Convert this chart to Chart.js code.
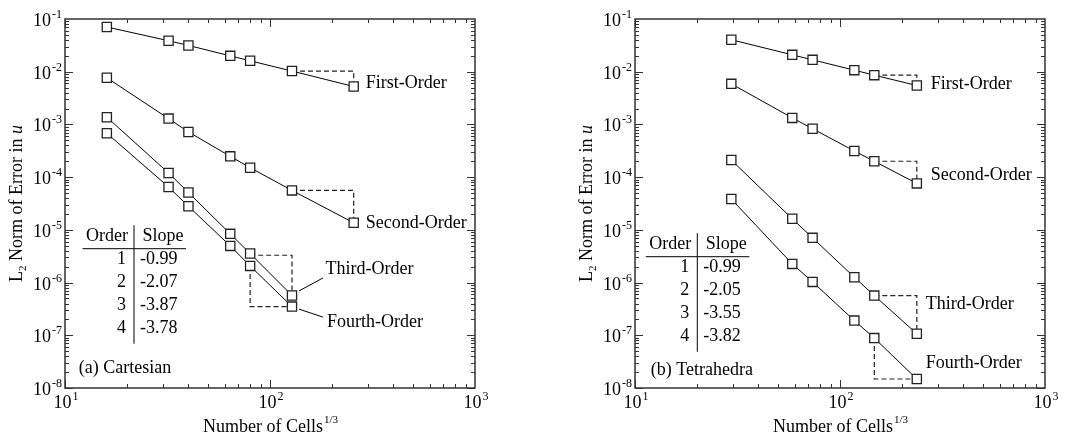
<!DOCTYPE html>
<html>
<head>
<meta charset="utf-8">
<script src="https://cdn.jsdelivr.net/npm/chart.js@4"></script>
<style>
html, body { margin: 0; padding: 0; background: #fff; }
#wrap { position: relative; width: 1075px; height: 437px; }
canvas { position: absolute; top: 0; }
</style>
</head>
<body>
<div id="wrap">
  <canvas id="cart" width="537" height="437" style="left:0"></canvas>
  <canvas id="tet" width="538" height="437" style="left:537px"></canvas>
</div>
<script>
'use strict';

// (a) Cartesian
var cartCells  = [16, 32, 40, 64, 80, 128, 256];
var cartFirst  = [0.0705, 0.0387, 0.0315, 0.0200, 0.0161, 0.0103, 0.00524];
var cartSecond = [0.00766, 0.00129, 0.00072, 0.000248, 0.000151, 0.000056, 0.0000136];
var cartThird  = [0.00137, 0.00012, 0.000051, 0.0000084, 0.00000356, 0.00000057];
var cartFourth = [0.00068, 0.000065, 0.000028, 0.00000496, 0.00000207, 0.00000035];
var cartSlopes = ['-0.99', '-2.07', '-3.87', '-3.78'];

// (b) Tetrahedra
var tetCells  = [29.5, 58.5, 73.5, 117.5, 147, 237];
var tetFirst  = [0.0404, 0.0209, 0.0168, 0.0107, 0.0086, 0.00547];
var tetSecond = [0.00589, 0.00133, 0.00083, 0.000313, 0.0002, 0.000076];
var tetThird  = [0.000211, 0.0000162, 0.00000705, 0.00000126, 0.000000566, 0.000000107];
var tetFourth = [0.0000384, 0.00000226, 0.00000103, 0.00000019, 0.0000000885, 0.0000000148];
var tetSlopes = ['-0.99', '-2.05', '-3.55', '-3.82'];

// slope triangles (data coordinates)
var cartTriangles = [
    [[128, 0.0103], [256, 0.0103], [256, 0.00524]],
    [[128, 0.000056], [256, 0.000056], [256, 0.0000136]],
    [[80, 0.0000033], [128, 0.0000033], [128, 0.00000057]],
    [[80, 0.00000207], [80, 0.00000035], [128, 0.00000035]]
];
var tetTriangles = [
    [[147, 0.0086], [237, 0.0086], [237, 0.00547]],
    [[147, 0.0002], [237, 0.0002], [237, 0.000076]],
    [[147, 0.000000566], [237, 0.000000566], [237, 0.000000107]],
    [[147, 0.0000000885], [147, 0.0000000148], [237, 0.0000000148]]
];

var orderNames = ['First-Order', 'Second-Order', 'Third-Order', 'Fourth-Order'];
var xDecades = [1, 2, 3];
var yDecades = [-8, -7, -6, -5, -4, -3, -2, -1];

var FONT = '"Liberation Serif", "Times New Roman", serif';

function toPoints(xs, ys) {
    return ys.map(function (y, i) { return { x: xs[i], y: y }; });
}

// "10" with a raised exponent
function drawPower(ctx, x, y, exp, align) {
    ctx.font = '18px ' + FONT;
    var w1 = ctx.measureText('10').width;
    ctx.font = '12px ' + FONT;
    var w2 = ctx.measureText(exp).width;
    var total = w1 + 1 + w2;
    var x0 = align === 'right' ? x - total : x - total / 2;
    ctx.textAlign = 'left';
    ctx.textBaseline = 'alphabetic';
    ctx.font = '18px ' + FONT;
    ctx.fillText('10', x0, y);
    ctx.font = '12px ' + FONT;
    ctx.fillText(exp, x0 + w1 + 1, y - 8);
}

// frame, inward log ticks, tick labels and axis titles
var logFrame = {
    id: 'logFrame',
    afterDraw: function (chart) {
        var ctx = chart.ctx, a = chart.chartArea,
            xs = chart.scales.x, ys = chart.scales.y;
        ctx.save();
        ctx.strokeStyle = '#333';
        ctx.lineWidth = 1;
        ctx.beginPath();
        // x ticks, bottom and top
        for (var d = 1; d < 3; d++) {
            for (var m = 1; m < 10; m++) {
                var px = Math.round(xs.getPixelForValue(m * Math.pow(10, d))) + 0.5;
                var len = m === 1 ? 8 : 4;
                ctx.moveTo(px, a.bottom); ctx.lineTo(px, a.bottom - len);
                ctx.moveTo(px, a.top); ctx.lineTo(px, a.top + len);
            }
        }
        // y ticks, left and right
        for (var e = -8; e < -1; e++) {
            for (var k = 1; k < 10; k++) {
                var py = Math.round(ys.getPixelForValue(k * Math.pow(10, e))) + 0.5;
                var l2 = k === 1 ? 8 : 4;
                ctx.moveTo(a.left, py); ctx.lineTo(a.left + l2, py);
                ctx.moveTo(a.right, py); ctx.lineTo(a.right - l2, py);
            }
        }
        ctx.stroke();
        ctx.lineWidth = 1.5;
        ctx.strokeRect(a.left, a.top, a.right - a.left, a.bottom - a.top);

        ctx.fillStyle = '#000';
        xDecades.forEach(function (p) {
            drawPower(ctx, xs.getPixelForValue(Math.pow(10, p)) + 1, a.bottom + 20, String(p), 'center');
        });
        yDecades.forEach(function (p) {
            drawPower(ctx, a.left - 3, ys.getPixelForValue(Math.pow(10, p)) + 7, String(p), 'right');
        });

        // x title
        ctx.font = '18px ' + FONT;
        var t1 = 'Number of Cells';
        var w1 = ctx.measureText(t1).width;
        ctx.font = '11px ' + FONT;
        var w2 = ctx.measureText('1/3').width;
        var cx = (a.left + a.right) / 2;
        var x0 = cx - (w1 + w2) / 2;
        ctx.textAlign = 'left';
        ctx.font = '18px ' + FONT;
        ctx.fillText(t1, x0, a.bottom + 44);
        ctx.font = '11px ' + FONT;
        ctx.fillText('1/3', x0 + w1 + 1, a.bottom + 35);

        // y title (rotated)
        ctx.translate(a.left - 43, (a.top + a.bottom) / 2);
        ctx.rotate(-Math.PI / 2);
        var parts = [
            ['L', '18px ' + FONT, 0],
            ['2', '11px ' + FONT, 4],
            [' Norm of Error in ', '18px ' + FONT, 0],
            ['u', 'italic 18px ' + FONT, 0]
        ];
        var tw = 0;
        parts.forEach(function (p) { ctx.font = p[1]; tw += ctx.measureText(p[0]).width; });
        var xx = -tw / 2;
        parts.forEach(function (p) {
            ctx.font = p[1];
            ctx.fillText(p[0], xx, p[2]);
            xx += ctx.measureText(p[0]).width;
        });
        ctx.restore();
    }
};

// order labels, slope table and panel tag
function panelText(cfg) {
    return {
        id: 'panelText',
        afterDraw: function (chart) {
            var ctx = chart.ctx, a = chart.chartArea,
                xs = chart.scales.x, ys = chart.scales.y;
            ctx.save();
            ctx.fillStyle = '#000';
            ctx.strokeStyle = '#000';
            ctx.lineWidth = 1;
            ctx.font = '18px ' + FONT;
            ctx.textBaseline = 'middle';
            ctx.textAlign = 'left';

            cfg.labels.forEach(function (lb) {
                var px = xs.getPixelForValue(lb.at[0]),
                    py = ys.getPixelForValue(lb.at[1]);
                ctx.fillText(lb.text, px + lb.dx, py + lb.dy);
                if (lb.leader) {
                    ctx.beginPath();
                    ctx.moveTo(px + lb.leader[0], py + lb.leader[1]);
                    ctx.lineTo(px + lb.leader[2], py + lb.leader[3]);
                    ctx.stroke();
                }
            });

            // slope table
            var vx = a.left + cfg.table.vx, hy = a.top + cfg.table.hy;
            ctx.beginPath();
            ctx.moveTo(vx - 51.5, hy); ctx.lineTo(vx + 52, hy);
            ctx.moveTo(vx, hy - 23.5); ctx.lineTo(vx, hy + 95);
            ctx.stroke();
            ctx.textAlign = 'right';
            ctx.fillText('Order', vx - 6, hy - 12);
            ctx.textAlign = 'left';
            ctx.fillText('Slope', vx + 8.5, hy - 12);
            cfg.slopes.forEach(function (s, i) {
                var ry = hy + 11 + i * 23;
                ctx.textAlign = 'right';
                ctx.fillText(String(i + 1), vx - 8, ry);
                ctx.textAlign = 'left';
                ctx.fillText(s, vx + 6, ry);
            });

            ctx.fillText(cfg.tag, a.left + cfg.tagDx, a.bottom - cfg.tagDy);
            ctx.restore();
        }
    };
}

function seriesSet(xs, ys) {
    return {
        data: toPoints(xs, ys),
        showLine: true,
        borderColor: '#000',
        borderWidth: 1,
        pointStyle: 'rect',
        pointRadius: 6.5,
        pointBorderWidth: 1.3,
        pointBorderColor: '#222',
        pointBackgroundColor: '#fff'
    };
}

function triangleSet(tri) {
    return {
        data: tri.map(function (p) { return { x: p[0], y: p[1] }; }),
        showLine: true,
        borderColor: '#222',
        borderWidth: 1.2,
        borderDash: [5, 3],
        pointRadius: 0
    };
}

function makePanel(id, cells, series, triangles, pad, cfg) {
    var datasets = series.map(function (s) { return seriesSet(cells.slice(0, s.length), s); })
        .concat(triangles.map(triangleSet));
    return new Chart(document.getElementById(id), {
        type: 'scatter',
        data: { datasets: datasets },
        options: {
            responsive: false,
            animation: false,
            devicePixelRatio: 1,
            layout: { padding: pad },
            plugins: { legend: { display: false }, tooltip: { enabled: false } },
            scales: {
                x: { type: 'logarithmic', min: 10, max: 1000, display: false },
                y: { type: 'logarithmic', min: 1e-8, max: 1e-1, display: false }
            }
        },
        plugins: [logFrame, panelText(cfg)]
    });
}

makePanel('cart', cartCells, [cartFirst, cartSecond, cartThird, cartFourth], cartTriangles,
    { left: 65, right: 62, top: 19, bottom: 49 },
    {
        labels: [
            { text: orderNames[0], at: [256, 0.00524], dx: 12, dy: -3.5 },
            { text: orderNames[1], at: [256, 0.0000136], dx: 12, dy: 0 },
            { text: orderNames[2], at: [128, 0.00000057], dx: 33.5, dy: -26.5, leader: [7, -4.5, 31, -17.5] },
            { text: orderNames[3], at: [128, 0.00000035], dx: 35, dy: 16, leader: [7, 2.5, 31, 10.5] }
        ],
        slopes: cartSlopes,
        table: { vx: 69, hy: 229.7 },
        tag: '(a) Cartesian', tagDx: 13.7, tagDy: 19.7
    });

makePanel('tet', tetCells, [tetFirst, tetSecond, tetThird, tetFourth], tetTriangles,
    { left: 98, right: 30, top: 19, bottom: 49 },
    {
        labels: [
            { text: orderNames[0], at: [237, 0.00547], dx: 14, dy: -1.5 },
            { text: orderNames[1], at: [237, 0.000076], dx: 14, dy: -8.3 },
            { text: orderNames[2], at: [237, 0.000000107], dx: 9, dy: -29.3 },
            { text: orderNames[3], at: [237, 0.0000000148], dx: 9, dy: -15.4 }
        ],
        slopes: tetSlopes,
        table: { vx: 62.3, hy: 237.7 },
        tag: '(b) Tetrahedra', tagDx: 15.7, tagDy: 17.3
    });
</script>
</body>
</html>
